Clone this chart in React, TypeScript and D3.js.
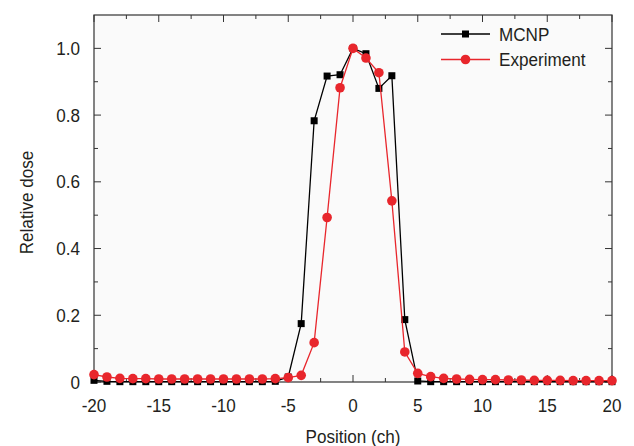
import React from 'react';
import * as d3 from 'd3';

// positions in channels
const positions = d3.range(-20, 21);

const mcnpValues = [
  0.005, 0.002, 0.001, 0.001, 0.001, 0.001, 0.001, 0.001, 0.001, 0.001,
  0.001, 0.001, 0.001, 0.001, 0.002, 0.015, 0.175, 0.783, 0.917, 0.921,
  1.0, 0.984, 0.880, 0.918, 0.187, 0.003, 0.001, 0.001, 0.001, 0.001,
  0.001, 0.001, 0.001, 0.001, 0.001, 0.001, 0.001, 0.001, 0.001, 0.001, 0.001,
];

const experimentValues = [
  0.022, 0.015, 0.011, 0.010, 0.010, 0.009, 0.009, 0.009, 0.009, 0.009,
  0.009, 0.009, 0.009, 0.009, 0.010, 0.013, 0.020, 0.118, 0.493, 0.882,
  1.0, 0.971, 0.927, 0.543, 0.090, 0.026, 0.016, 0.011, 0.009, 0.008,
  0.007, 0.007, 0.006, 0.006, 0.005, 0.005, 0.005, 0.004, 0.004, 0.004, 0.004,
];

const xTicks = [-20, -15, -10, -5, 0, 5, 10, 15, 20];
const yTicks = [0, 0.2, 0.4, 0.6, 0.8, 1.0];
const yTickLabels = ['0', '0.2', '0.4', '0.6', '0.8', '1.0'];

const W = 634;
const H = 446;
const margin = { top: 15, right: 22, bottom: 64, left: 94 };
const FONT = '"Liberation Sans", Arial, Helvetica, sans-serif';
const TEXT = '#231f20';
const RED = '#e8262c';
const SQUEEZE = 0.9; // the original font is a narrow Helvetica

function Label({ x, y, anchor = 'start', rotate = 0, size = 19, children }: any) {
  return (
    <text
      transform={`translate(${x},${y}) rotate(${rotate}) scale(${SQUEEZE},1)`}
      textAnchor={anchor}
      fontSize={size}
      fill={TEXT}
    >
      {children}
    </text>
  );
}

export default function App() {
  const x = d3.scaleLinear().domain([-20, 20]).range([margin.left, W - margin.right]);
  const y = d3.scaleLinear().domain([0, 1.1]).range([H - margin.bottom, margin.top]);

  const line = d3.line<number>()
    .x((_, i) => x(positions[i]))
    .y(d => y(d));

  const x0 = x.range()[0], x1 = x.range()[1];
  const y0 = y.range()[0], y1 = y.range()[1];

  const xMinor = d3.range(-17.5, 20, 5);
  const yMinor = d3.range(0.1, 1.1, 0.2);

  const major = 7;
  const minor = 4;

  return (
    <svg width={W} height={H} style={{ position: 'absolute', left: 0, top: 0 }} fontFamily={FONT}>
      <rect x={x0} y={y1} width={x1 - x0} height={y0 - y1} fill="#fafafa" />

      {/* ticks, inward on all four sides */}
      <g stroke="#333" strokeWidth={1}>
        {xTicks.map(t => (
          <g key={'xt' + t}>
            <line x1={x(t)} x2={x(t)} y1={y0} y2={y0 - major} />
            <line x1={x(t)} x2={x(t)} y1={y1} y2={y1 + major} />
          </g>
        ))}
        {xMinor.map(t => (
          <g key={'xm' + t}>
            <line x1={x(t)} x2={x(t)} y1={y0} y2={y0 - minor} />
            <line x1={x(t)} x2={x(t)} y1={y1} y2={y1 + minor} />
          </g>
        ))}
        {yTicks.map(t => (
          <g key={'yt' + t}>
            <line x1={x0} x2={x0 + major} y1={y(t)} y2={y(t)} />
            <line x1={x1} x2={x1 - major} y1={y(t)} y2={y(t)} />
          </g>
        ))}
        {yMinor.map(t => (
          <g key={'ym' + t}>
            <line x1={x0} x2={x0 + minor} y1={y(t)} y2={y(t)} />
            <line x1={x1} x2={x1 - minor} y1={y(t)} y2={y(t)} />
          </g>
        ))}
      </g>
      <rect x={x0} y={y1} width={x1 - x0} height={y0 - y1} fill="none" stroke="#333" strokeWidth={1.2} />

      {/* series */}
      <path d={line(mcnpValues) || ''} fill="none" stroke="#000" strokeWidth={1.3} />
      {mcnpValues.map((v, i) => (
        <rect key={'m' + i} x={x(positions[i]) - 3.5} y={y(v) - 3.5} width={7} height={7} fill="#000" />
      ))}
      <path d={line(experimentValues) || ''} fill="none" stroke={RED} strokeWidth={1.3} />
      {experimentValues.map((v, i) => (
        <circle key={'e' + i} cx={x(positions[i])} cy={y(v)} r={4.8} fill={RED} />
      ))}

      {/* tick labels */}
      {xTicks.map(t => (
        <Label key={'xl' + t} x={x(t)} y={411.5} anchor="middle">{t}</Label>
      ))}
      {yTicks.map((t, i) => (
        <Label key={'yl' + t} x={80} y={y(t) + 6.5} anchor="end">{yTickLabels[i]}</Label>
      ))}

      {/* axis titles */}
      <Label x={(x0 + x1) / 2} y={442.5} anchor="middle">Position (ch)</Label>
      <Label x={32.5} y={(y0 + y1) / 2 + 4} anchor="middle" rotate={-90}>Relative dose</Label>

      {/* legend */}
      <line x1={441} x2={490} y1={34} y2={34} stroke="#000" strokeWidth={1.3} />
      <rect x={462} y={30.5} width={7} height={7} fill="#000" />
      <Label x={499} y={40.5}>MCNP</Label>
      <line x1={441} x2={490} y1={59.5} y2={59.5} stroke={RED} strokeWidth={1.3} />
      <circle cx={465.5} cy={59.5} r={4.8} fill={RED} />
      <Label x={499} y={66}>Experiment</Label>
    </svg>
  );
}
